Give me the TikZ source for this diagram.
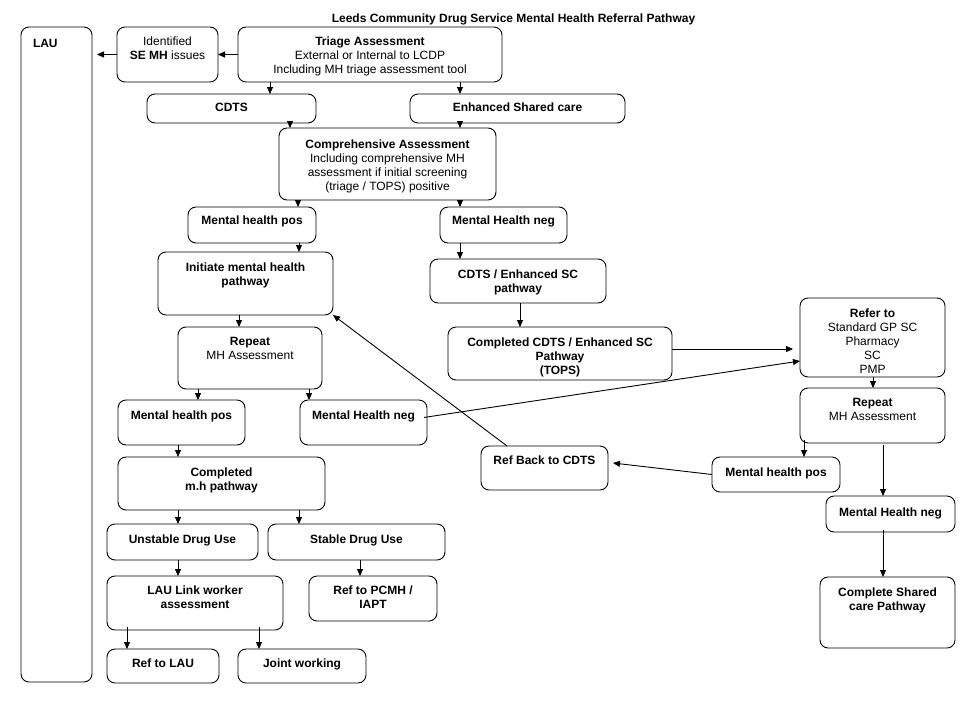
\documentclass[tikz,border=0pt]{standalone}
\usepackage{fontspec}
\setmainfont{Liberation Sans}
\usetikzlibrary{arrows.meta,calc}
\tikzset{
 box/.style={draw, line width=0.9pt, rounded corners=8pt, inner sep=0pt, outer sep=0pt},
 txt/.style={font=\fontsize{12}{14}\selectfont\bfseries, align=center, inner sep=0pt, outer sep=0pt},
 arr/.style={line width=0.9pt, -{Triangle[length=7pt,width=6pt]}}
}
\newcommand{\bx}[7]{%
 \node[box, minimum width={#4-#2}, minimum height={#5-#3}] (#1) at ({(#2+#4)/2},{(#3+#5)/2}) {};
 \node[txt, anchor=north] (#1-t) at ([yshift={-(#6-4.3)}]#1.north) {#7};}
\begin{document}
\begin{tikzpicture}[x=1pt,y=-1pt]
\useasboundingbox[fill=white] (0,0) rectangle (960,720);
\node[txt] (title) at (513.5,19) {Leeds Community Drug Service Mental Health Referral Pathway};
% LAU
\node[box, minimum width=71, minimum height=655] (lau) at (56.5,354.5) {};
\node[txt, anchor=north west] (lau-t) at ([xshift=12,yshift=-12.7]lau.north west) {LAU};
\bx{iden}{117}{27}{218}{82}{14}{\textmd{Identified}\\SE MH \textmd{issues}}
\bx{tri}{238}{27}{502}{82}{14}{Triage Assessment\\\textmd{External or Internal to LCDP}\\\textmd{Including MH triage assessment tool}}
\bx{cdts}{147}{94}{316}{123}{13}{CDTS}
\bx{enh}{410}{94}{625}{123}{13}{Enhanced Shared care}
\bx{comp}{279}{128}{496}{200}{16}{Comprehensive Assessment\\\textmd{Including comprehensive MH}\\\textmd{assessment if initial screening}\\\textmd{(triage / TOPS) positive}}
\bx{mhp1}{188}{207}{316}{243}{13}{Mental health pos}
\bx{mhn1}{440}{207}{567}{243}{13}{Mental Health neg}
\bx{init}{158}{252}{333}{315}{15}{Initiate mental health\\pathway}
\bx{cdtsp}{430}{259}{606}{303}{15}{CDTS / Enhanced SC\\pathway}
\bx{rep1}{178}{327}{322}{389}{15}{Repeat\\\textmd{MH Assessment}}
\bx{compc}{448}{327}{672}{380}{15}{Completed CDTS / Enhanced SC\\Pathway\\(TOPS)}
\bx{refer}{800}{298}{945}{377}{15}{Refer to\\\textmd{Standard GP SC}\\\textmd{Pharmacy}\\\textmd{SC}\\\textmd{PMP}}
\bx{mhp2}{118}{400}{245}{445}{15}{Mental health pos}
\bx{mhn2}{300}{400}{427}{445}{15}{Mental Health neg}
\bx{rep2}{800}{388}{945}{443}{15}{Repeat\\\textmd{MH Assessment}}
\bx{refback}{481}{446}{608}{490}{14}{Ref Back to CDTS}
\bx{cmh}{118}{457}{325}{510}{15}{Completed\\m.h pathway}
\bx{mhpR}{712}{457}{840}{492}{15}{Mental health pos}
\bx{mhnR}{826}{496}{955}{532}{16}{Mental Health neg}
\bx{uns}{107}{524}{258}{560}{15}{Unstable Drug Use}
\bx{sta}{268}{524}{445}{560}{15}{Stable Drug Use}
\bx{lauw}{107}{576}{283}{630}{14}{LAU Link worker\\assessment}
\bx{pcmh}{309}{576}{437}{621}{14}{Ref to PCMH /\\IAPT}
\bx{csc}{820}{577}{955}{648}{15}{Complete Shared\\care Pathway}
\bx{reflau}{107}{649}{219}{683}{14}{Ref to LAU}
\bx{joint}{238}{649}{366}{683}{14}{Joint working}
% connectors
\draw[arr] (tri.west) -- (iden.east);
\draw[arr, shorten >=5pt] (iden.west) -- (lau.east |- iden.west);
\draw[arr] (tri.south -| 270,0) -- (cdts.north -| 270,0);
\draw[arr] (tri.south -| 460,0) -- (enh.north -| 460,0);
\draw[arr] (cdts.south -| 290,0) -- (comp.north -| 290,0);
\draw[arr] (enh.south -| 460,0) -- (comp.north -| 460,0);
\draw[arr] (comp.south -| 298,0) -- (mhp1.north -| 298,0);
\draw[arr] (comp.south -| 460,0) -- (mhn1.north -| 460,0);
\draw[arr] (mhp1.south -| 299,0) -- (init.north -| 299,0);
\draw[arr] (mhn1.south -| 460,0) -- (cdtsp.north -| 460,0);
\draw[arr] (init.south -| 239,0) -- (rep1.north -| 239,0);
\draw[arr] (cdtsp.south -| 520,0) -- (compc.north -| 520,0);
\draw[arr] (rep1.south -| 198,0) -- (mhp2.north -| 198,0);
\draw[arr] (rep1.south -| 309,0) -- (mhn2.north -| 309,0);
\draw[arr] (mhp2.south -| 178,0) -- (cmh.north -| 178,0);
\draw[arr] (cmh.south -| 178,0) -- (uns.north -| 178,0);
\draw[arr] (cmh.south -| 299,0) -- (sta.north -| 299,0);
\draw[arr] (uns.south -| 178,0) -- (lauw.north -| 178,0);
\draw[arr] (sta.south -| 360,0) -- (pcmh.north -| 360,0);
\draw[arr] ([yshift=3]lauw.south -| 127,0) -- (reflau.north -| 127,0);
\draw[arr] ([yshift=3]lauw.south -| 259,0) -- (joint.north -| 259,0);
\draw[arr, shorten >=7pt] (compc.east |- 0,349) -- (refer.west |- 0,349);
\draw[arr, shorten <=-3pt] (mhn2.east |- 0,417) -- (refer.west |- 0,361);
\draw[arr] (refback.north -| 507,0) -- (init.south east);
\draw[arr] (refer.south -| 873,0) -- (rep2.north -| 873,0);
\draw[arr, shorten <=-3pt] (rep2.south -| 804,0) -- (mhpR.north -| 804,0);
\draw[arr, shorten <=2pt] (rep2.south -| 883,0) -- (mhnR.north -| 883,0);
\draw[arr] (mhpR.west) -- ([xshift=5]refback.east |- 0,463);
\draw[arr, shorten <=-2pt] (mhnR.south -| 883,0) -- (csc.north -| 883,0);
\end{tikzpicture}
\end{document}
